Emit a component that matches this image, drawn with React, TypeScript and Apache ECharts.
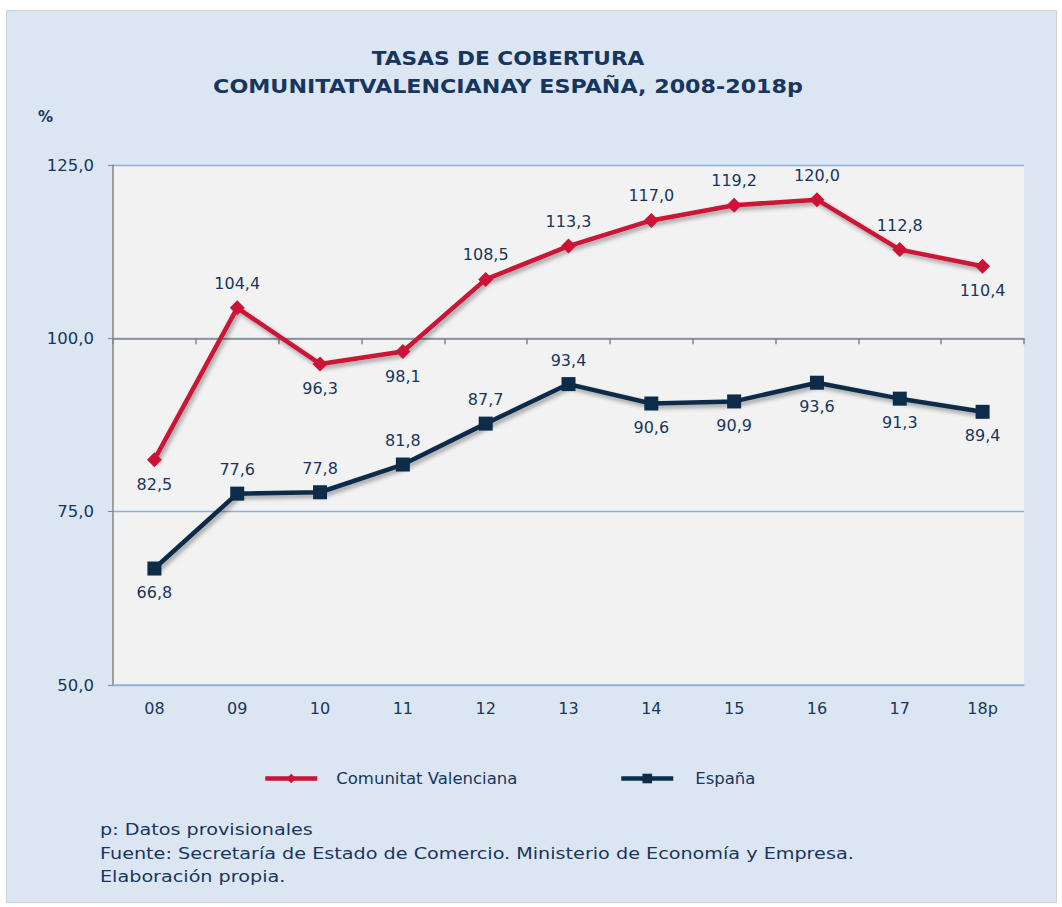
import React, { useEffect, useRef } from "react";
import * as echarts from "echarts";

const categories = ["08", "09", "10", "11", "12", "13", "14", "15", "16", "17", "18p"];
const valencia = [82.5, 104.4, 96.3, 98.1, 108.5, 113.3, 117.0, 119.2, 120.0, 112.8, 110.4];
const espana = [66.8, 77.6, 77.8, 81.8, 87.7, 93.4, 90.6, 90.9, 93.6, 91.3, 89.4];
const valenciaLabelPos = ["bottom", "top", "bottom", "bottom", "top", "top", "top", "top", "top", "top", "bottom"];
const espanaLabelPos = ["bottom", "top", "top", "top", "top", "top", "bottom", "bottom", "bottom", "bottom", "bottom"];
const titleLines = ["TASAS DE COBERTURA", "COMUNITATVALENCIANAY ESPAÑA, 2008-2018p"];
const notes = [
  "p: Datos provisionales",
  "Fuente: Secretaría de Estado de Comercio. Ministerio de Economía y Empresa.",
  "Elaboración propia.",
];

const TEXT = "#17365d";
const RED = "#cc1236";
const NAVY = "#0c2c4a";
const FONT = "'DejaVu Sans', sans-serif";

const fmt = (v: number) => v.toFixed(1).replace(".", ",");

export default function App() {
  const ref = useRef<HTMLDivElement>(null);
  useEffect(() => {
    document.body.style.margin = "0";
    const chart = echarts.init(ref.current!, undefined, { renderer: "svg" });
    const gridLeft = 113, gridTop = 165, gridW = 911, gridH = 520;
    const lineShadow = { shadowColor: "rgba(0,0,0,0.35)", shadowBlur: 4, shadowOffsetX: 2, shadowOffsetY: 3 };
    const legendCommon = {
      top: 765,
      itemWidth: 52,
      itemHeight: 12,
      lineStyle: { width: 4.5 },
    };
    const legendText = (pad: number) => ({ color: TEXT, fontSize: 16.5, fontFamily: FONT, padding: [0, 0, 0, pad] });
    chart.setOption({
      animation: false,
      backgroundColor: "#ffffff",
      textStyle: { fontFamily: FONT },
      graphic: [
        { type: "rect", z: -10, shape: { x: 6.5, y: 10.5, width: 1050, height: 892 }, style: { fill: "#dce6f2", stroke: "#d0d0d0", lineWidth: 1 } },
        { type: "text", x: 508, y: 58, scaleX: 1.14, style: { text: titleLines[0], font: "bold 19px 'DejaVu Sans', sans-serif", fill: TEXT, textAlign: "center", textVerticalAlign: "middle" } },
        { type: "text", x: 508, y: 87, scaleX: 1.17, style: { text: titleLines[1], font: "bold 19px 'DejaVu Sans', sans-serif", fill: TEXT, textAlign: "center", textVerticalAlign: "middle" } },
        { type: "text", x: 38, y: 117, style: { text: "%", font: "bold 15px 'DejaVu Sans', sans-serif", fill: TEXT, textVerticalAlign: "middle" } },
        ...notes.map((t, i) => ({ type: "text", x: 100, y: 830 + i * 23.5, scaleX: 1.2, style: { text: t, font: `16px ${FONT}`, fill: TEXT, textVerticalAlign: "middle" } })),
      ],
      grid: [
        { left: gridLeft, top: gridTop, width: gridW, height: gridH, show: true, backgroundColor: "#f2f2f2", borderWidth: 0 },
        { left: gridLeft, top: gridTop, width: gridW, height: (gridH * 25) / 75, show: false },
      ],
      legend: [
        { ...legendCommon, data: ["Comunitat Valenciana"], left: 258, textStyle: legendText(14) },
        { ...legendCommon, data: ["España"], left: 614, textStyle: legendText(17) },
      ],
      xAxis: [
        {
          type: "category",
          data: categories,
          gridIndex: 0,
          axisLine: { lineStyle: { color: "#95b3d7", width: 1.5 } },
          axisTick: { show: false },
          axisLabel: { color: TEXT, fontSize: 16, margin: 15, fontFamily: FONT },
        },
        {
          type: "category",
          data: categories,
          gridIndex: 1,
          position: "bottom",
          axisLine: { show: true, lineStyle: { color: "#868686", width: 1.5 } },
          axisTick: { show: true, interval: 0, length: 6, lineStyle: { color: "#868686", width: 1.5 } },
          axisLabel: { show: false, interval: 0 },
          z: 3,
        },
      ],
      yAxis: [
        {
          type: "value",
          gridIndex: 0,
          min: 50,
          max: 125,
          interval: 25,
          axisLine: { show: true, lineStyle: { color: "#868686", width: 1.5 } },
          axisTick: { show: true, length: 5, lineStyle: { color: "#868686" } },
          splitLine: { lineStyle: { color: "#8eb0dc", width: 1.3 } },
          axisLabel: { color: TEXT, fontSize: 16.5, margin: 19, fontFamily: FONT, formatter: (v: number) => fmt(v) },
        },
        { type: "value", gridIndex: 1, show: false, min: 0, max: 1 },
      ],
      series: [
        {
          name: "Comunitat Valenciana",
          type: "line",
          xAxisIndex: 0,
          yAxisIndex: 0,
          data: valencia.map((v, i) => ({ value: v, label: { position: valenciaLabelPos[i] } })),
          symbol: "diamond",
          symbolSize: 15,
          color: RED,
          lineStyle: { color: RED, width: 4.5, ...lineShadow },
          itemStyle: { color: RED },
          label: { show: true, distance: 9, color: TEXT, fontSize: 16, fontFamily: FONT, formatter: (p: any) => fmt(p.value) },
          z: 5,
        },
        {
          name: "España",
          type: "line",
          xAxisIndex: 0,
          yAxisIndex: 0,
          data: espana.map((v, i) => ({ value: v, label: { position: espanaLabelPos[i] } })),
          symbol: "rect",
          symbolSize: 14,
          color: NAVY,
          lineStyle: { color: NAVY, width: 4.5, ...lineShadow },
          itemStyle: { color: NAVY },
          label: { show: true, distance: 9, color: TEXT, fontSize: 16, fontFamily: FONT, formatter: (p: any) => fmt(p.value) },
          z: 5,
        },
      ],
    });
    return () => chart.dispose();
  }, []);
  return <div ref={ref} style={{ width: 1062, height: 907 }} />;
}
